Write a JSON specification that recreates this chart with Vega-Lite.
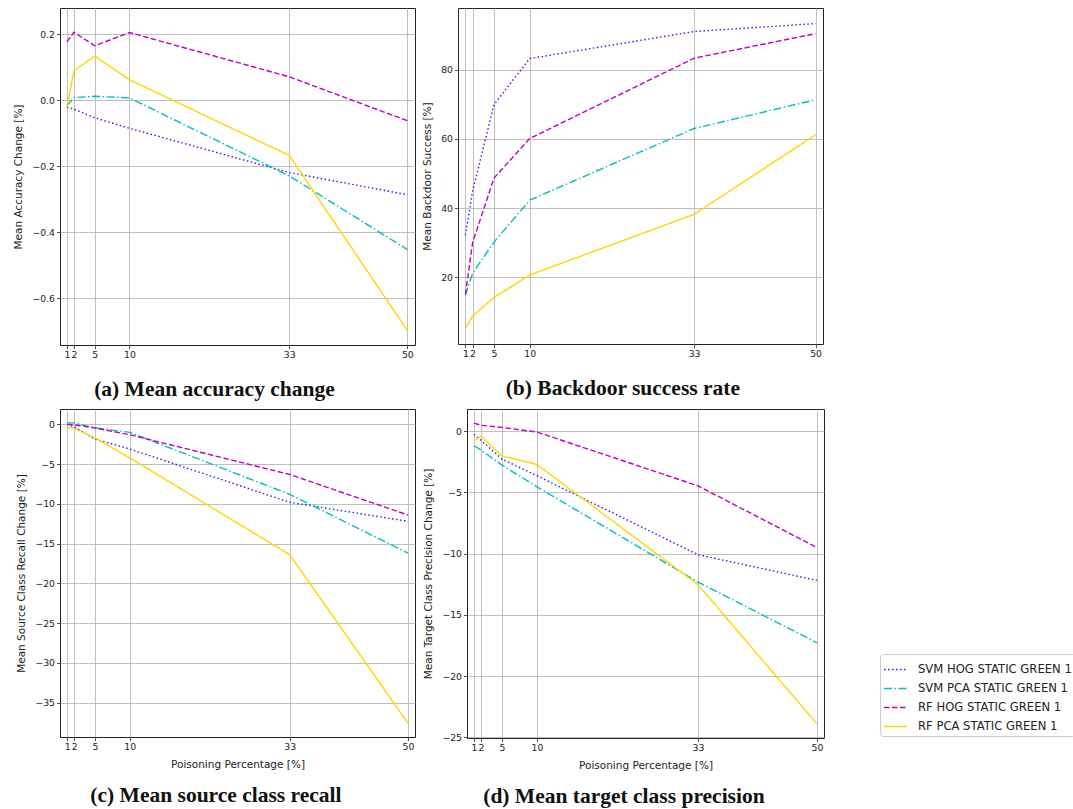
{
  "$schema": "https://vega.github.io/schema/vega-lite/v6.json",
  "background": "white",
  "padding": {"left": 13, "top": 7, "right": 0, "bottom": 0},
  "spacing": 7,
  "data": {"values": [
    {"p": "a", "m": "SVM HOG STATIC GREEN 1", "x": 1, "v": -0.02},
    {"p": "a", "m": "SVM HOG STATIC GREEN 1", "x": 2, "v": -0.027},
    {"p": "a", "m": "SVM HOG STATIC GREEN 1", "x": 5, "v": -0.053},
    {"p": "a", "m": "SVM HOG STATIC GREEN 1", "x": 10, "v": -0.085},
    {"p": "a", "m": "SVM HOG STATIC GREEN 1", "x": 33, "v": -0.219},
    {"p": "a", "m": "SVM HOG STATIC GREEN 1", "x": 50, "v": -0.286},
    {"p": "a", "m": "SVM PCA STATIC GREEN 1", "x": 1, "v": -0.017},
    {"p": "a", "m": "SVM PCA STATIC GREEN 1", "x": 2, "v": 0.008},
    {"p": "a", "m": "SVM PCA STATIC GREEN 1", "x": 5, "v": 0.012},
    {"p": "a", "m": "SVM PCA STATIC GREEN 1", "x": 10, "v": 0.007},
    {"p": "a", "m": "SVM PCA STATIC GREEN 1", "x": 33, "v": -0.229},
    {"p": "a", "m": "SVM PCA STATIC GREEN 1", "x": 50, "v": -0.452},
    {"p": "a", "m": "RF HOG STATIC GREEN 1", "x": 1, "v": 0.177},
    {"p": "a", "m": "RF HOG STATIC GREEN 1", "x": 2, "v": 0.206},
    {"p": "a", "m": "RF HOG STATIC GREEN 1", "x": 5, "v": 0.165},
    {"p": "a", "m": "RF HOG STATIC GREEN 1", "x": 10, "v": 0.205},
    {"p": "a", "m": "RF HOG STATIC GREEN 1", "x": 33, "v": 0.071},
    {"p": "a", "m": "RF HOG STATIC GREEN 1", "x": 50, "v": -0.062},
    {"p": "a", "m": "RF PCA STATIC GREEN 1", "x": 1, "v": -0.021},
    {"p": "a", "m": "RF PCA STATIC GREEN 1", "x": 2, "v": 0.089},
    {"p": "a", "m": "RF PCA STATIC GREEN 1", "x": 5, "v": 0.134},
    {"p": "a", "m": "RF PCA STATIC GREEN 1", "x": 10, "v": 0.062},
    {"p": "a", "m": "RF PCA STATIC GREEN 1", "x": 33, "v": -0.167},
    {"p": "a", "m": "RF PCA STATIC GREEN 1", "x": 50, "v": -0.697},

    {"p": "b", "m": "SVM HOG STATIC GREEN 1", "x": 1, "v": 32.2},
    {"p": "b", "m": "SVM HOG STATIC GREEN 1", "x": 2, "v": 44.9},
    {"p": "b", "m": "SVM HOG STATIC GREEN 1", "x": 5, "v": 69.9},
    {"p": "b", "m": "SVM HOG STATIC GREEN 1", "x": 10, "v": 83.2},
    {"p": "b", "m": "SVM HOG STATIC GREEN 1", "x": 33, "v": 91.0},
    {"p": "b", "m": "SVM HOG STATIC GREEN 1", "x": 50, "v": 93.3},
    {"p": "b", "m": "SVM PCA STATIC GREEN 1", "x": 1, "v": 14.8},
    {"p": "b", "m": "SVM PCA STATIC GREEN 1", "x": 2, "v": 21.2},
    {"p": "b", "m": "SVM PCA STATIC GREEN 1", "x": 5, "v": 30.2},
    {"p": "b", "m": "SVM PCA STATIC GREEN 1", "x": 10, "v": 42.3},
    {"p": "b", "m": "SVM PCA STATIC GREEN 1", "x": 33, "v": 63.0},
    {"p": "b", "m": "SVM PCA STATIC GREEN 1", "x": 50, "v": 71.3},
    {"p": "b", "m": "RF HOG STATIC GREEN 1", "x": 1, "v": 15.1},
    {"p": "b", "m": "RF HOG STATIC GREEN 1", "x": 2, "v": 30.0},
    {"p": "b", "m": "RF HOG STATIC GREEN 1", "x": 5, "v": 48.7},
    {"p": "b", "m": "RF HOG STATIC GREEN 1", "x": 10, "v": 60.1},
    {"p": "b", "m": "RF HOG STATIC GREEN 1", "x": 33, "v": 83.3},
    {"p": "b", "m": "RF HOG STATIC GREEN 1", "x": 50, "v": 90.4},
    {"p": "b", "m": "RF PCA STATIC GREEN 1", "x": 1, "v": 5.4},
    {"p": "b", "m": "RF PCA STATIC GREEN 1", "x": 2, "v": 8.8},
    {"p": "b", "m": "RF PCA STATIC GREEN 1", "x": 5, "v": 14.2},
    {"p": "b", "m": "RF PCA STATIC GREEN 1", "x": 10, "v": 20.7},
    {"p": "b", "m": "RF PCA STATIC GREEN 1", "x": 33, "v": 38.2},
    {"p": "b", "m": "RF PCA STATIC GREEN 1", "x": 50, "v": 61.2},

    {"p": "c", "m": "SVM HOG STATIC GREEN 1", "x": 1, "v": 0.0},
    {"p": "c", "m": "SVM HOG STATIC GREEN 1", "x": 2, "v": -0.3},
    {"p": "c", "m": "SVM HOG STATIC GREEN 1", "x": 5, "v": -1.85},
    {"p": "c", "m": "SVM HOG STATIC GREEN 1", "x": 10, "v": -3.1},
    {"p": "c", "m": "SVM HOG STATIC GREEN 1", "x": 33, "v": -9.8},
    {"p": "c", "m": "SVM HOG STATIC GREEN 1", "x": 50, "v": -12.2},
    {"p": "c", "m": "SVM PCA STATIC GREEN 1", "x": 1, "v": 0.2},
    {"p": "c", "m": "SVM PCA STATIC GREEN 1", "x": 2, "v": 0.2},
    {"p": "c", "m": "SVM PCA STATIC GREEN 1", "x": 5, "v": -0.45},
    {"p": "c", "m": "SVM PCA STATIC GREEN 1", "x": 10, "v": -1.0},
    {"p": "c", "m": "SVM PCA STATIC GREEN 1", "x": 33, "v": -8.8},
    {"p": "c", "m": "SVM PCA STATIC GREEN 1", "x": 50, "v": -16.2},
    {"p": "c", "m": "RF HOG STATIC GREEN 1", "x": 1, "v": 0.0},
    {"p": "c", "m": "RF HOG STATIC GREEN 1", "x": 2, "v": -0.05},
    {"p": "c", "m": "RF HOG STATIC GREEN 1", "x": 5, "v": -0.45},
    {"p": "c", "m": "RF HOG STATIC GREEN 1", "x": 10, "v": -1.3},
    {"p": "c", "m": "RF HOG STATIC GREEN 1", "x": 33, "v": -6.3},
    {"p": "c", "m": "RF HOG STATIC GREEN 1", "x": 50, "v": -11.4},
    {"p": "c", "m": "RF PCA STATIC GREEN 1", "x": 1, "v": -0.35},
    {"p": "c", "m": "RF PCA STATIC GREEN 1", "x": 2, "v": -0.5},
    {"p": "c", "m": "RF PCA STATIC GREEN 1", "x": 5, "v": -1.7},
    {"p": "c", "m": "RF PCA STATIC GREEN 1", "x": 10, "v": -4.2},
    {"p": "c", "m": "RF PCA STATIC GREEN 1", "x": 33, "v": -16.4},
    {"p": "c", "m": "RF PCA STATIC GREEN 1", "x": 50, "v": -37.6},

    {"p": "d", "m": "SVM HOG STATIC GREEN 1", "x": 1, "v": -0.27},
    {"p": "d", "m": "SVM HOG STATIC GREEN 1", "x": 2, "v": -0.75},
    {"p": "d", "m": "SVM HOG STATIC GREEN 1", "x": 5, "v": -2.29},
    {"p": "d", "m": "SVM HOG STATIC GREEN 1", "x": 10, "v": -3.65},
    {"p": "d", "m": "SVM HOG STATIC GREEN 1", "x": 33, "v": -10.09},
    {"p": "d", "m": "SVM HOG STATIC GREEN 1", "x": 50, "v": -12.19},
    {"p": "d", "m": "SVM PCA STATIC GREEN 1", "x": 1, "v": -1.2},
    {"p": "d", "m": "SVM PCA STATIC GREEN 1", "x": 2, "v": -1.55},
    {"p": "d", "m": "SVM PCA STATIC GREEN 1", "x": 5, "v": -2.78},
    {"p": "d", "m": "SVM PCA STATIC GREEN 1", "x": 10, "v": -4.55},
    {"p": "d", "m": "SVM PCA STATIC GREEN 1", "x": 33, "v": -12.32},
    {"p": "d", "m": "SVM PCA STATIC GREEN 1", "x": 50, "v": -17.28},
    {"p": "d", "m": "RF HOG STATIC GREEN 1", "x": 1, "v": 0.65},
    {"p": "d", "m": "RF HOG STATIC GREEN 1", "x": 2, "v": 0.47},
    {"p": "d", "m": "RF HOG STATIC GREEN 1", "x": 5, "v": 0.3},
    {"p": "d", "m": "RF HOG STATIC GREEN 1", "x": 10, "v": -0.08},
    {"p": "d", "m": "RF HOG STATIC GREEN 1", "x": 33, "v": -4.47},
    {"p": "d", "m": "RF HOG STATIC GREEN 1", "x": 50, "v": -9.51},
    {"p": "d", "m": "RF PCA STATIC GREEN 1", "x": 1, "v": -0.8},
    {"p": "d", "m": "RF PCA STATIC GREEN 1", "x": 2, "v": -0.42},
    {"p": "d", "m": "RF PCA STATIC GREEN 1", "x": 5, "v": -2.03},
    {"p": "d", "m": "RF PCA STATIC GREEN 1", "x": 10, "v": -2.73},
    {"p": "d", "m": "RF PCA STATIC GREEN 1", "x": 33, "v": -12.54},
    {"p": "d", "m": "RF PCA STATIC GREEN 1", "x": 50, "v": -23.9}
  ]},
  "config": {
    "view": {"stroke": "#222", "strokeWidth": 1},
    "axis": {
      "labelFont": "DejaVu Sans", "labelFontSize": 9.3, "labelColor": "#222",
      "titleFont": "DejaVu Sans", "titleFontSize": 10.5, "titleFontWeight": "normal", "titleColor": "#222",
      "grid": true, "gridColor": "#b0b0b0", "gridWidth": 0.8, "gridOpacity": 1,
      "domain": false, "ticks": true, "tickColor": "#222", "tickSize": 3.5, "tickWidth": 0.8,
      "labelPadding": 2, "labelOverlap": false, "labelFlush": false, "labelBound": false
    },
    "axisY": {"titlePadding": 8},
    "axisX": {"titlePadding": 8},
    "title": {"font": "Liberation Serif", "fontSize": 21.5, "fontWeight": "bold", "color": "#111", "frame": "bounds", "anchor": "middle"},
    "legend": {
      "orient": "none", "legendX": 820, "legendY": 646,
      "labelFont": "DejaVu Sans", "labelFontSize": 11.6, "labelColor": "#222", "labelLimit": 400,
      "symbolType": "stroke", "symbolSize": 529, "symbolStrokeWidth": 1.5,
      "strokeColor": "#cccccc", "cornerRadius": 3, "padding": 3, "fillColor": "white",
      "rowPadding": -1.7, "labelOffset": 10
    }
  },
  "vconcat": [
    {
      "spacing": 6,
      "hconcat": [
        {
          "width": 355, "height": 337,
          "title": {"text": "(a) Mean accuracy change", "orient": "bottom", "offset": 19},
          "transform": [{"filter": "datum.p == 'a'"}],
          "mark": {"type": "line", "strokeWidth": 1.4},
          "encoding": {
            "x": {"field": "x", "type": "quantitative",
                  "scale": {"domain": [0.0, 51.1], "nice": false, "zero": false},
                  "axis": {"values": [1, 2, 5, 10, 33, 50], "title": null}},
            "y": {"field": "v", "type": "quantitative",
                  "scale": {"domain": [-0.741, 0.2793], "nice": false, "zero": false},
                  "axis": {"values": [-0.6, -0.4, -0.2, 0, 0.2], "format": ".1f", "title": "Mean Accuracy Change [%]"}},
            "color": {"field": "m", "type": "nominal", "legend": {"title": null},
                      "scale": {"domain": ["SVM HOG STATIC GREEN 1", "SVM PCA STATIC GREEN 1", "RF HOG STATIC GREEN 1", "RF PCA STATIC GREEN 1"],
                                "range": ["#2020ff", "#00bfbf", "#bf00bf", "#ffd700"]}},
            "strokeDash": {"field": "m", "type": "nominal", "legend": {"title": null},
                      "scale": {"domain": ["SVM HOG STATIC GREEN 1", "SVM PCA STATIC GREEN 1", "RF HOG STATIC GREEN 1", "RF PCA STATIC GREEN 1"],
                                "range": [[1.5, 2.5], [8, 2.5, 1.5, 2.5], [5.5, 2.5], [1, 0]]}}
          }
        },
        {
          "width": 365, "height": 336,
          "title": {"text": "(b) Backdoor success rate", "orient": "bottom", "offset": 19},
          "transform": [{"filter": "datum.p == 'b'"}],
          "mark": {"type": "line", "strokeWidth": 1.4},
          "encoding": {
            "x": {"field": "x", "type": "quantitative",
                  "scale": {"domain": [-0.04, 51.04], "nice": false, "zero": false},
                  "axis": {"values": [1, 2, 5, 10, 33, 50], "title": null}},
            "y": {"field": "v", "type": "quantitative",
                  "scale": {"domain": [0.76, 97.8], "nice": false, "zero": false},
                  "axis": {"values": [20, 40, 60, 80], "format": "d", "title": "Mean Backdoor Success [%]"}},
            "color": {"field": "m", "type": "nominal", "legend": {"title": null},
                      "scale": {"domain": ["SVM HOG STATIC GREEN 1", "SVM PCA STATIC GREEN 1", "RF HOG STATIC GREEN 1", "RF PCA STATIC GREEN 1"],
                                "range": ["#2020ff", "#00bfbf", "#bf00bf", "#ffd700"]}},
            "strokeDash": {"field": "m", "type": "nominal", "legend": {"title": null},
                      "scale": {"domain": ["SVM HOG STATIC GREEN 1", "SVM PCA STATIC GREEN 1", "RF HOG STATIC GREEN 1", "RF PCA STATIC GREEN 1"],
                                "range": [[1.5, 2.5], [8, 2.5, 1.5, 2.5], [5.5, 2.5], [1, 0]]}}
          }
        }
      ]
    },
    {
      "spacing": 7,
      "hconcat": [
        {
          "width": 355, "height": 328,
          "title": {"text": "(c) Mean source class recall", "orient": "bottom", "offset": 15},
          "transform": [{"filter": "datum.p == 'c'"}],
          "mark": {"type": "line", "strokeWidth": 1.4},
          "encoding": {
            "x": {"field": "x", "type": "quantitative",
                  "scale": {"domain": [-0.03, 51.0], "nice": false, "zero": false},
                  "axis": {"values": [1, 2, 5, 10, 33, 50], "title": "Poisoning Percentage [%]"}},
            "y": {"field": "v", "type": "quantitative",
                  "scale": {"domain": [-39.33, 1.94], "nice": false, "zero": false},
                  "axis": {"values": [-35, -30, -25, -20, -15, -10, -5, 0], "format": "d", "title": "Mean Source Class Recall Change [%]"}},
            "color": {"field": "m", "type": "nominal", "legend": {"title": null},
                      "scale": {"domain": ["SVM HOG STATIC GREEN 1", "SVM PCA STATIC GREEN 1", "RF HOG STATIC GREEN 1", "RF PCA STATIC GREEN 1"],
                                "range": ["#2020ff", "#00bfbf", "#bf00bf", "#ffd700"]}},
            "strokeDash": {"field": "m", "type": "nominal", "legend": {"title": null},
                      "scale": {"domain": ["SVM HOG STATIC GREEN 1", "SVM PCA STATIC GREEN 1", "RF HOG STATIC GREEN 1", "RF PCA STATIC GREEN 1"],
                                "range": [[1.5, 2.5], [8, 2.5, 1.5, 2.5], [5.5, 2.5], [1, 0]]}}
          }
        },
        {
          "width": 357, "height": 329,
          "title": {"text": "(d) Mean target class precision", "orient": "bottom", "offset": 15},
          "transform": [{"filter": "datum.p == 'd'"}],
          "mark": {"type": "line", "strokeWidth": 1.4},
          "encoding": {
            "x": {"field": "x", "type": "quantitative",
                  "scale": {"domain": [-0.0, 51.0], "nice": false, "zero": false},
                  "axis": {"values": [1, 2, 5, 10, 33, 50], "title": "Poisoning Percentage [%]"}},
            "y": {"field": "v", "type": "quantitative",
                  "scale": {"domain": [-25.05, 1.8], "nice": false, "zero": false},
                  "axis": {"values": [-25, -20, -15, -10, -5, 0], "format": "d", "title": "Mean Target Class Precision Change [%]"}},
            "color": {"field": "m", "type": "nominal", "legend": {"title": null},
                      "scale": {"domain": ["SVM HOG STATIC GREEN 1", "SVM PCA STATIC GREEN 1", "RF HOG STATIC GREEN 1", "RF PCA STATIC GREEN 1"],
                                "range": ["#2020ff", "#00bfbf", "#bf00bf", "#ffd700"]}},
            "strokeDash": {"field": "m", "type": "nominal", "legend": {"title": null},
                      "scale": {"domain": ["SVM HOG STATIC GREEN 1", "SVM PCA STATIC GREEN 1", "RF HOG STATIC GREEN 1", "RF PCA STATIC GREEN 1"],
                                "range": [[1.5, 2.5], [8, 2.5, 1.5, 2.5], [5.5, 2.5], [1, 0]]}}
          }
        }
      ]
    }
  ]
}
